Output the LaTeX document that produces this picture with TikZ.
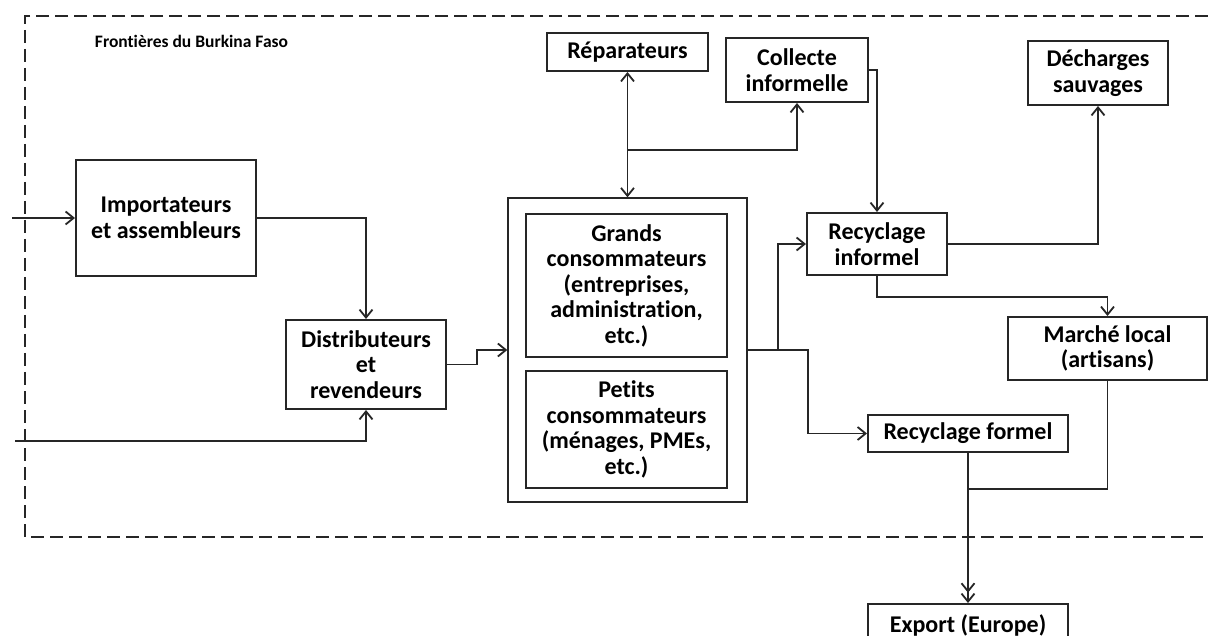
\documentclass[tikz,border=0pt]{standalone}
\usepackage{fontspec}
\setmainfont{Carlito}[Ligatures=NoCommon]
\usetikzlibrary{arrows.meta}

\begin{document}
\begin{tikzpicture}[x=1pt,y=-1pt,
  >={Straight Barb[length=8pt,width=13pt]},
  box/.style={draw=black!85,line width=2pt,align=center,inner sep=0pt,
    font=\bfseries\fontsize{24}{25.5}\selectfont},
  flow/.style={draw=black!85,line width=1.8pt},
  border/.style={draw=black!85,line width=1.8pt,dash pattern=on 13pt off 6pt}]
\clip (0,0) rectangle (1208,636);
\fill[white] (0,0) rectangle (1208,636);
\draw[border] (1208,16) -- (25,16) -- (25,537) -- (1208,537);
\node[font=\bfseries\fontsize{17.5}{20}\selectfont] (front) at (191.5,41) {Frontières du Burkina Faso};
\node[box,minimum width=180,minimum height=116] (imp) at (166,218) {Importateurs\\et assembleurs};
\node[box,minimum width=160,minimum height=89] (dist) at (366,364.5) {Distributeurs\\et\\revendeurs};
\node[box,line width=1.4pt,minimum width=239,minimum height=304] (cons) at (627.5,350) {};
\node[box,minimum width=201,minimum height=143] (grands) at (626.5,285.5) {Grands\\consommateurs\\(entreprises,\\administration,\\etc.)};
\node[box,minimum width=201,minimum height=117] (petits) at (626.5,429.5) {Petits\\consommateurs\\(ménages, PMEs,\\etc.)};
\node[box,minimum width=161,minimum height=38] (rep) at (627.5,52) {Réparateurs};
\node[box,minimum width=142,minimum height=64] (coll) at (797,70) {Collecte\\informelle};
\node[box,minimum width=140,minimum height=62] (recinf) at (877,244) {Recyclage\\informel};
\node[box,minimum width=140,minimum height=64] (dech) at (1098,73) {Décharges\\sauvages};
\node[box,minimum width=199,minimum height=63] (marche) at (1107.5,348.5) {Marché local\\(artisans)};
\node[box,minimum width=200,minimum height=37] (recf) at (968,433.5) {Recyclage formel};
\node[box,minimum width=200,minimum height=42] (export) at (968,625) {Export (Europe)};
\coordinate (in1) at (12,218);
\coordinate (in2) at (15,441);
\coordinate (jonc) at (968,489);
\draw[flow,->] (in1) -- (imp.west);
\draw[flow,->] (imp.east) -| (dist.north);
\draw[flow,->] (in2) -| (dist.south);
\draw[flow,->] (dist.east) -- ++(30,0) |- (cons.west);
\draw[flow,<->] (rep.south) -- (cons.north);
\draw[flow,->] (rep.south |- 0,150) -| (coll.south);
\draw[flow,->] (coll.east) -| (recinf.north);
\draw[flow,->] (cons.east) -- ++(30,0) |- (recinf.west);
\draw[flow,->] (cons.east) -- ++(60,0) |- (recf.west);
\draw[flow,->] (recinf.east) -| (dech.south);
\draw[flow,->] (recinf.south) -- ++(0,21) -| (marche.north);
\draw[flow] (marche.south) |- (jonc);
\draw[flow,-{Straight Barb[length=8pt,width=13pt] Straight Barb[length=8pt,width=13pt]}] (recf.south) -- (export.north);
\end{tikzpicture}
\end{document}
